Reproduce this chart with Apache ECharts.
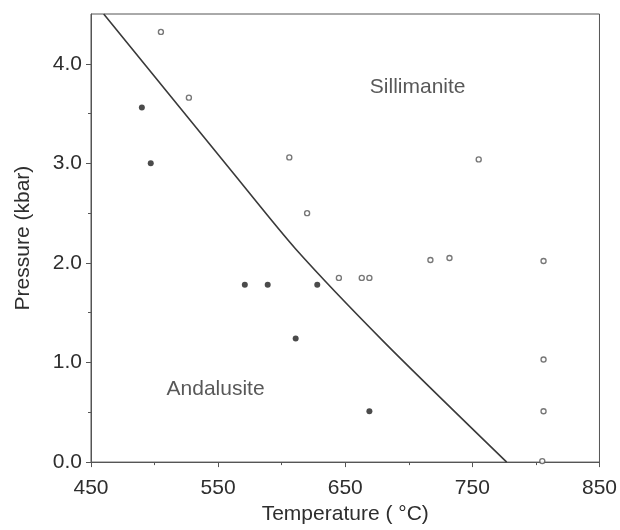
<!DOCTYPE html>
<html>
<head>
<meta charset="utf-8">
<script src="https://cdn.jsdelivr.net/npm/echarts@6/dist/echarts.min.js"></script>
<style>
  html, body { margin: 0; padding: 0; background: #fff; }
  #chart { width: 620px; height: 530px; }
</style>
</head>
<body>
<div id="chart"></div>
<script>
// tick values
const xTicks = [450, 550, 650, 750, 850]
const xMinorTicks = [500, 600, 700, 800]
const yTicks = [0, 1, 2, 3, 4]
const yMinorTicks = [0.5, 1.5, 2.5, 3.5]

// reaction boundary (temperature, pressure)
const boundary = [
  [460, 4.5], [562, 2.9], [611, 2.14], [681, 1.2], [777, 0]
]

// sillimanite-bearing samples (open circles)
const sillimanite = [
  [505, 4.32], [527, 3.66], [606, 3.06], [620, 2.5],
  [645, 1.85], [663, 1.85], [669, 1.85], [717, 2.03],
  [732, 2.05], [755, 3.04], [806, 2.02], [806, 1.03],
  [806, 0.51], [805, 0.01]
]

// andalusite-bearing samples (filled circles)
const andalusite = [
  [490, 3.56], [497, 3.0], [571, 1.78], [589, 1.78],
  [628, 1.78], [611, 1.24], [669, 0.51]
]

// field names
const fieldLabels = [
  { name: 'Sillimanite', value: [707, 3.76] },
  { name: 'Andalusite', value: [548, 0.73] }
]

const FONT = '"Liberation Sans", Arial, Helvetica, sans-serif'
const AXIS = '#555'
const TEXT = '#2e2e2e'

const chart = echarts.init(document.getElementById('chart'))

const option = {
  animation: false,
  backgroundColor: '#fff',
  textStyle: { fontFamily: FONT },
  grid: {
    left: 91,
    right: 17,
    top: 14,
    bottom: 66,
    show: true,
    borderColor: AXIS,
    borderWidth: 1
  },
  xAxis: [
    {
      type: 'value',
      min: 450,
      max: 850,
      interval: 50,
      name: 'Temperature ( °C)',
      nameLocation: 'middle',
      nameGap: 38,
      nameTextStyle: { color: TEXT, fontSize: 21, fontFamily: FONT },
      axisLine: { show: true, lineStyle: { color: AXIS, width: 1 } },
      axisTick: { show: true, customValues: xTicks, length: 5, lineStyle: { color: AXIS } },
      axisLabel: { customValues: xTicks, color: TEXT, fontSize: 21, fontFamily: FONT, margin: 16 },
      splitLine: { show: false }
    },
    {
      type: 'value',
      min: 450,
      max: 850,
      interval: 50,
      position: 'bottom',
      axisLine: { show: false },
      axisTick: { show: true, customValues: xMinorTicks, length: 3, lineStyle: { color: AXIS } },
      axisLabel: { show: false },
      splitLine: { show: false }
    }
  ],
  yAxis: [
    {
      type: 'value',
      min: 0,
      max: 4.5,
      interval: 0.5,
      name: 'Pressure (kbar)',
      nameLocation: 'middle',
      nameGap: 57,
      nameTextStyle: { color: TEXT, fontSize: 21, fontFamily: FONT },
      axisLine: { show: true, lineStyle: { color: AXIS, width: 1 } },
      axisTick: { show: true, customValues: yTicks, length: 5, lineStyle: { color: AXIS } },
      axisLabel: {
        customValues: yTicks,
        color: TEXT,
        fontSize: 21,
        fontFamily: FONT,
        margin: 9,
        formatter: (v) => v.toFixed(1)
      },
      splitLine: { show: false }
    },
    {
      type: 'value',
      min: 0,
      max: 4.5,
      interval: 0.5,
      position: 'left',
      axisLine: { show: false },
      axisTick: { show: true, customValues: yMinorTicks, length: 3, lineStyle: { color: AXIS } },
      axisLabel: { show: false },
      splitLine: { show: false }
    }
  ],
  series: [
    {
      name: 'boundary',
      type: 'line',
      data: boundary,
      symbol: 'none',
      smooth: 0.25,
      lineStyle: { color: '#3a3a3a', width: 1.6 },
      z: 2
    },
    {
      name: 'Sillimanite',
      type: 'scatter',
      data: sillimanite,
      symbol: 'circle',
      symbolSize: 5,
      itemStyle: { color: '#fff', borderColor: '#555', borderWidth: 1.4 },
      z: 3
    },
    {
      name: 'Andalusite',
      type: 'scatter',
      data: andalusite,
      symbol: 'circle',
      symbolSize: 6,
      itemStyle: { color: '#1e1e1e' },
      z: 3
    },
    {
      name: 'fields',
      type: 'scatter',
      data: fieldLabels,
      symbolSize: 0,
      silent: true,
      label: {
        show: true,
        position: 'inside',
        formatter: '{b}',
        color: TEXT,
        fontSize: 21,
        fontFamily: FONT
      }
    }
  ]
}

chart.setOption(option)
</script>
</body>
</html>
